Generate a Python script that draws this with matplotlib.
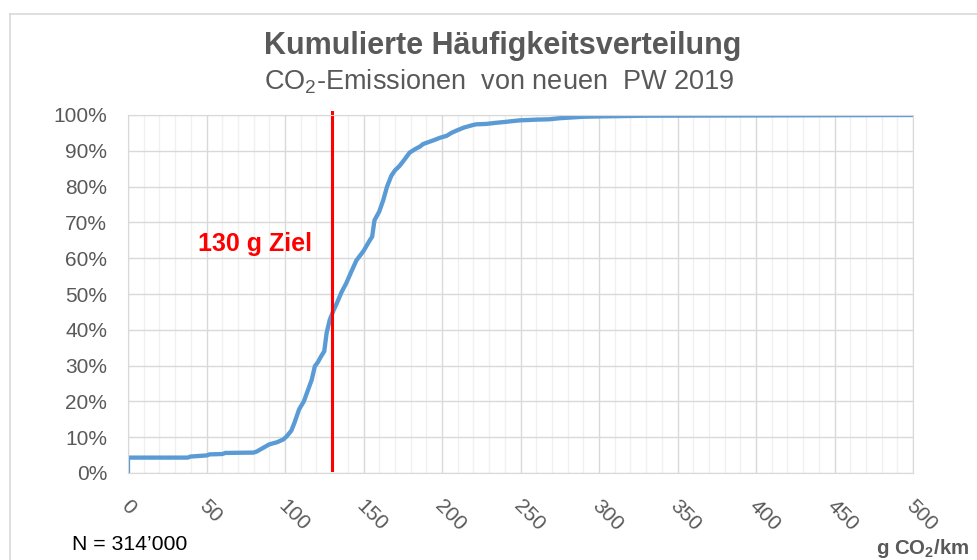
import matplotlib
matplotlib.use("Agg")
from matplotlib import pyplot as plt
from matplotlib.ticker import MultipleLocator, FuncFormatter
from matplotlib.lines import Line2D
from matplotlib.transforms import ScaledTranslation

plt.rcParams['font.family'] = ['Liberation Sans', 'DejaVu Sans']
plt.rcParams['mathtext.fontset'] = 'custom'
plt.rcParams['mathtext.rm'] = 'Liberation Sans'
plt.rcParams['mathtext.bf'] = 'Liberation Sans:bold'

# emissions in g CO2/km and cumulative share in %
emission = [0, 0, 38, 40, 50, 52, 60, 62, 80, 82, 86, 90, 95, 99, 101, 104, 106, 109,
            112, 114, 117, 119, 121, 123, 125, 126.5, 128.5, 131, 133, 136, 139, 142,
            145.5, 150, 154, 155.5, 157, 160, 162.5, 165, 167.7, 170, 173, 176, 179.4,
            183, 186, 188, 195, 198.5, 203, 206, 209, 214, 219.7, 222, 228, 234, 241,
            245, 249.4, 260, 268.4, 275, 289.6, 300, 330, 500]
cum_share = [0, 4.3, 4.3, 4.6, 4.9, 5.2, 5.3, 5.6, 5.7, 6.0, 7.0, 8.0, 8.6, 9.4, 10.2,
             11.8, 14, 17.8, 20, 22.4, 26, 29.8, 31, 32.6, 34, 39.1, 42.8, 45.5, 47.4,
             50.5, 53, 56, 59.4, 62, 65, 66, 70.6, 73, 76.1, 80, 83, 84.5, 85.8, 87.5,
             89.5, 90.5, 91.2, 91.9, 93, 93.6, 94.2, 95, 95.6, 96.5, 97.2, 97.4, 97.5,
             97.8, 98.1, 98.3, 98.5, 98.7, 98.8, 99.1, 99.5, 99.6, 99.8, 100]
target = 130
x_ticks = list(range(0, 501, 50))

grey = '#595959'

fig = plt.figure(figsize=(9.77, 5.6), dpi=100)
ax = fig.add_axes([128 / 977, 87 / 560, 785 / 977, 358 / 560])

# grid
ax.xaxis.set_major_locator(MultipleLocator(50))
ax.xaxis.set_minor_locator(MultipleLocator(10))
ax.yaxis.set_major_locator(MultipleLocator(10))
ax.grid(which='minor', axis='x', color='#F0F0F0', lw=1)
ax.grid(which='major', axis='x', color='#D9D9D9', lw=1)
ax.grid(which='major', axis='y', color='#D9D9D9', lw=1)
ax.set_axisbelow(True)
for s in ax.spines.values():
    s.set_color('#D9D9D9')

ax.plot(emission, cum_share, color='#5B9BD5', lw=3.1, solid_joinstyle='miter')
ax.plot([target, target], [0.7, 100.8], color='#FF0000', lw=2.2, clip_on=False)
ax.text(target - 12.5, 64, '130 g Ziel', color='#FF0000', fontsize=18, fontweight='bold',
        ha='right', va='center')

ax.set_xlim(0, 500)
ax.set_ylim(0, 100)
ax.set_xticks(x_ticks)
ax.yaxis.set_major_formatter(FuncFormatter(lambda v, p: '{:.0f}%'.format(v)))
ax.tick_params(which='both', length=0)
ax.tick_params(axis='y', labelsize=15, labelcolor=grey, pad=15)
ax.tick_params(axis='x', labelsize=15, labelcolor=grey, pad=22)
shift = ScaledTranslation(-4 / 100, 0, fig.dpi_scale_trans)
for lab in ax.get_xticklabels():
    lab.set_rotation(-45)
    lab.set_ha('left')
    lab.set_va('center')
    lab.set_rotation_mode('anchor')
    lab.set_transform(lab.get_transform() + shift)

fig.text(503 / 977, 1 - 46 / 560, 'Kumulierte Häufigkeitsverteilung', fontsize=22,
         fontweight='bold', color=grey, ha='center', va='center')
fig.text(499 / 977, 1 - 82 / 560, 'CO$_2$-Emissionen  von neuen  PW 2019', fontsize=19.5,
         color=grey, ha='center', va='center')
fig.text(72 / 977, 1 - 544 / 560, 'N = 314’000', fontsize=15.3, color='black',
         ha='left', va='center')
fig.text(969 / 977, 1 - 549 / 560, r'g CO$_\mathbf{2}$/km', fontsize=14.7, fontweight='bold',
         color=grey, ha='right', va='center')

# chart frame (only left and top edges visible)
fig.add_artist(Line2D([9.5 / 977, 9.5 / 977], [0, 1 - 14 / 560], color='#D9D9D9', lw=1.2))
fig.add_artist(Line2D([9.5 / 977, 1], [1 - 14 / 560, 1 - 14 / 560], color='#D9D9D9', lw=1.2))

plt.savefig("out.png", dpi=100)
